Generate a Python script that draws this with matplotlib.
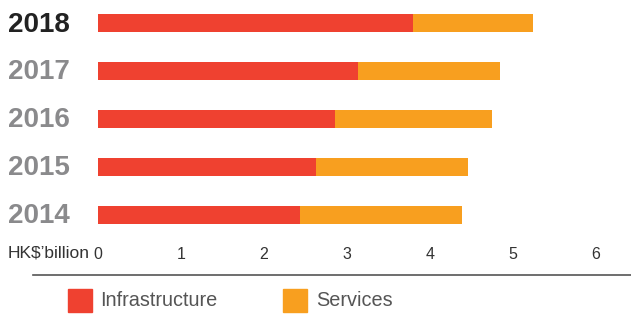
import matplotlib.pyplot as plt
from matplotlib.patches import Rectangle
from matplotlib.lines import Line2D
from matplotlib.transforms import blended_transform_factory

years = ['2014', '2015', '2016', '2017', '2018']
infrastructure = [2.43, 2.63, 2.86, 3.13, 3.80]
services = [1.96, 1.83, 1.89, 1.71, 1.44]
xticks = [0, 1, 2, 3, 4, 5, 6]

red = '#EF4130'
orange = '#F89F1F'

plt.rcParams['font.family'] = ['Liberation Sans', 'DejaVu Sans']

W, H = 631, 316
fig = plt.figure(figsize=(W / 100, H / 100), dpi=100)
ax = fig.add_axes([98 / W, (H - 239) / H, 531 / W, 238 / H])

pos = list(range(len(years)))
ax.barh(pos, infrastructure, height=0.375, color=red)
ax.barh(pos, services, left=infrastructure, height=0.375, color=orange)

ax.set_xlim(0, 6.4)
ax.set_ylim(-0.5, 4.46)
ax.set_xticks(xticks)
ax.set_xticklabels([str(t) for t in xticks], fontsize=11.5, color='#333333')
ax.tick_params(axis='x', length=0, pad=6)
ax.set_yticks([])
for s in ax.spines.values():
    s.set_visible(False)

# year labels on the left
trans = blended_transform_factory(fig.transFigure, ax.transData)
for i, y in enumerate(years):
    col = '#222222' if y == '2018' else '#8a8a8c'
    ax.text(8 / W, i - 0.03, y, transform=trans, ha='left', va='center',
            fontsize=20, fontweight='bold', color=col)

fig.text(8 / W, 1 - 253 / H, "HK$\u2019billion", ha='left', va='center',
         fontsize=12.5, color='#333333')

fig.add_artist(Line2D([33 / W, 1], [1 - 275 / H, 1 - 275 / H], color='#555555',
                      lw=1.2, transform=fig.transFigure))

# legend
fig.add_artist(Rectangle((68 / W, 1 - 312 / H), 24 / W, 23 / H, color=red,
                         transform=fig.transFigure))
fig.text(100 / W, 1 - 301 / H, 'Infrastructure', ha='left', va='center',
         fontsize=14.3, color='#555555')
fig.add_artist(Rectangle((283 / W, 1 - 312 / H), 24 / W, 23 / H, color=orange,
                         transform=fig.transFigure))
fig.text(316 / W, 1 - 301 / H, 'Services', ha='left', va='center',
         fontsize=14.3, color='#555555')

fig.savefig('out.png', dpi=100)
